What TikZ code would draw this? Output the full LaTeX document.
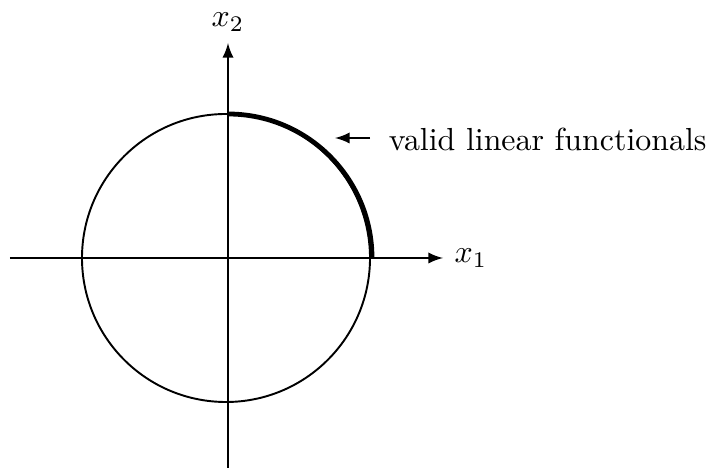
\documentclass[tikz,border=0pt]{standalone}
\usetikzlibrary{positioning}

\begin{document}
\begin{tikzpicture}[
            x=0.3135pt, y=0.3135pt,
            line width=0.6pt,
            >=latex
        ]

            % --- Riquadro della figura ---
            \useasboundingbox (-226, -210) rectangle (486, 258);

            % --- Origine ed estremi degli assi ---
            \coordinate (o) at (0, 0);
            \coordinate (xstart) at (-216, 0);
            \coordinate (xend) at (217, 0);
            \coordinate (ystart) at (2, -210);
            \coordinate (yend) at (2, 215);

            % --- Assi x1 e x2 ---
            \draw[->] (xstart) -- (xend) node[right=0pt] (xlabel) {$x_1$};
            \draw[->] (ystart) -- (yend) node[above=0pt] (ylabel) {$x_2$};

            % --- Cerchio unitario ---
            \draw (o) circle (144);

            % --- Arco spesso (primo quadrante) ---
            \draw[line width=1.5pt] (2, 144) arc (90:0:144);

            % --- Etichetta con freccia ---
            \coordinate (arrstart) at (144, 120);
            \coordinate (arrend) at (109, 120);
            \draw[->] (arrstart) -- (arrend);
            \node[anchor=base west, inner sep=0pt] (valid) at (162, 107) {valid linear functionals};

    \end{tikzpicture}
\end{document}
